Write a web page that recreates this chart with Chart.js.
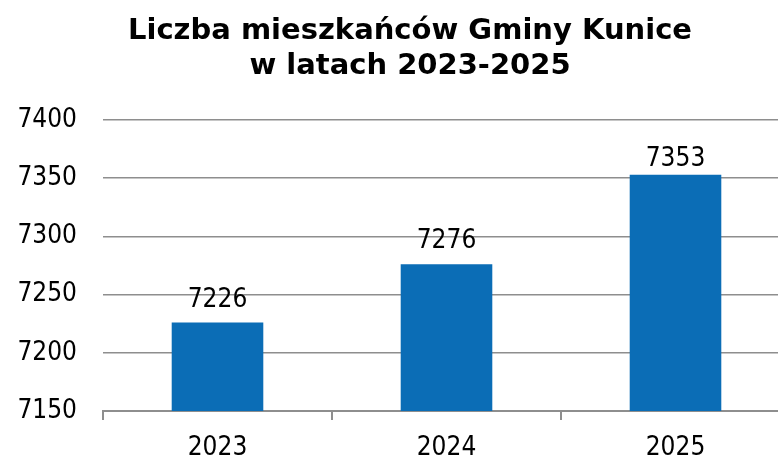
<!DOCTYPE html>
<html lang="pl">
<head>
    <meta charset="UTF-8">
    <title>Liczba mieszkańców Gminy Kunice</title>
    <script src="https://cdn.jsdelivr.net/npm/chart.js"></script>
    <style>
        html, body {
            margin: 0;
            padding: 0;
            background: #fff;
        }
        .chart-container {
            width: 778px;
            height: 458px;
            overflow: hidden;
        }
    </style>
</head>
<body>
    <div class="chart-container">
        <canvas id="popChart" width="790" height="458"></canvas>
    </div>

    <script>
        const years = ['2023', '2024', '2025'];
        const residents = [7226, 7276, 7353];
        const yTicks = [7150, 7200, 7250, 7300, 7350, 7400];
        const titleLines = ['Liczba mieszkańców Gminy Kunice', 'w latach 2023-2025'];

        const FONT = "'DejaVu Sans Condensed', 'DejaVu Sans', sans-serif";
        const TITLE_FONT = "'DejaVu Sans', sans-serif";

        // title is drawn by hand: the original is centred a bit right of the canvas middle
        const titlePlugin = {
            id: 'titleText',
            afterDraw(chart) {
                const ctx = chart.ctx;
                ctx.save();
                ctx.font = 'bold 29px ' + TITLE_FONT;
                ctx.fillStyle = '#000';
                ctx.textAlign = 'center';
                ctx.textBaseline = 'alphabetic';
                titleLines.forEach((line, i) => {
                    ctx.fillText(line, 410, 39 + i * 35);
                });
                ctx.restore();
            }
        };

        // numbers above bars (kept inside the plot when a bar is tall)
        const valueLabels = {
            id: 'valueLabels',
            afterDatasetsDraw(chart) {
                const ctx = chart.ctx;
                const meta = chart.getDatasetMeta(0);
                const minY = chart.chartArea.top + 46;
                ctx.save();
                ctx.font = '26px ' + FONT;
                ctx.fillStyle = '#000';
                ctx.textAlign = 'center';
                ctx.textBaseline = 'alphabetic';
                meta.data.forEach((bar, i) => {
                    const y = Math.max(bar.y - 16, minY);
                    ctx.fillText(String(residents[i]), bar.x, y);
                });
                ctx.restore();
            }
        };

        const ctx = document.getElementById('popChart').getContext('2d');
        const chart = new Chart(ctx, {
            type: 'bar',
            data: {
                labels: years,
                datasets: [{
                    data: residents,
                    backgroundColor: '#0B6DB6',
                    borderWidth: 0,
                    categoryPercentage: 1,
                    barPercentage: 0.4
                }]
            },
            options: {
                responsive: false,
                animation: false,
                layout: {
                    padding: { left: 0, right: 0, top: 120, bottom: 0 }
                },
                plugins: {
                    legend: { display: false },
                    tooltip: { enabled: false },
                    title: { display: false }
                },
                scales: {
                    x: {
                        offset: true,
                        grid: {
                            offset: true,
                            drawOnChartArea: false,
                            drawTicks: true,
                            tickLength: 9,
                            color: '#8e8e8e',
                            lineWidth: 2
                        },
                        border: { display: true, color: '#8e8e8e', width: 2 },
                        ticks: {
                            color: '#000',
                            padding: 13,
                            font: { family: FONT, size: 26 }
                        },
                        afterFit(scale) { scale.height = 47; }
                    },
                    y: {
                        min: 7150,
                        max: 7400,
                        afterBuildTicks(scale) {
                            scale.ticks = yTicks.map(v => ({ value: v }));
                        },
                        grid: {
                            drawTicks: false,
                            color: '#8e8e8e',
                            lineWidth: 1.5
                        },
                        border: { display: false },
                        ticks: {
                            color: '#000',
                            padding: 26,
                            font: { family: FONT, size: 26 },
                            callback: v => String(v)
                        },
                        afterFit(scale) { scale.width = 103; }
                    }
                }
            },
            plugins: [valueLabels, titlePlugin]
        });
    </script>
</body>
</html>
